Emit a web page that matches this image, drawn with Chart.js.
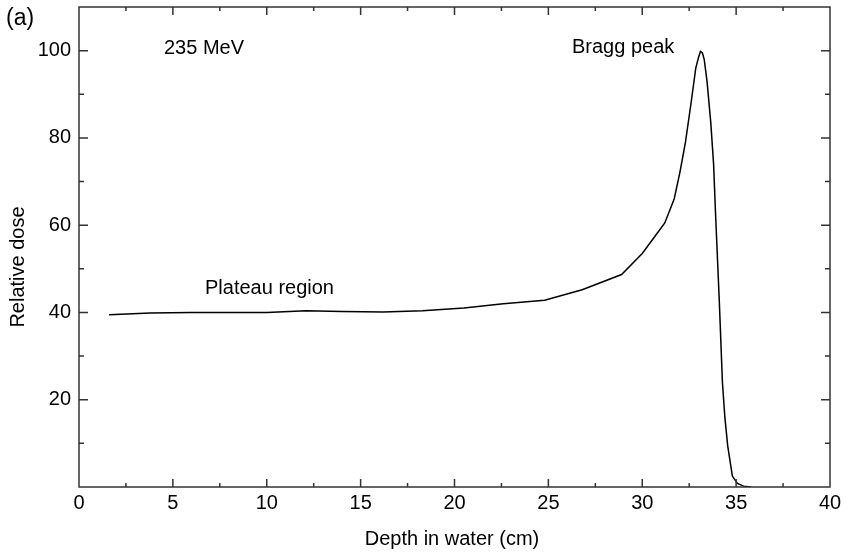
<!DOCTYPE html>
<html>
<head>
<meta charset="utf-8">
<script src="https://cdn.jsdelivr.net/npm/chart.js@4.4.1/dist/chart.umd.min.js"></script>
<style>
body{margin:0;background:#fff;}
#wrap{width:846px;height:554px;position:relative;}
</style>
</head>
<body>
<div id="wrap"><canvas id="bragg"></canvas></div>
<script>
// depth-dose curve, 235 MeV proton beam
var depth = [1.6, 3.8, 6.0, 8.0, 10.0, 12.1, 14.0, 16.2, 18.3, 20.5, 22.6, 24.8, 26.8, 28.9,
    30.0, 30.6, 31.2, 31.7, 32.0, 32.3, 32.6, 32.85, 33.0, 33.1, 33.2, 33.3, 33.45, 33.65,
    33.8, 33.9, 34.1, 34.27, 34.4, 34.55, 34.8, 35.07, 35.4, 35.8]
var dose = [39.5, 39.9, 40.0, 40.0, 40.0, 40.4, 40.2, 40.1, 40.4, 41.0, 42.0, 42.8, 45.2, 48.7,
    53.5, 57.0, 60.5, 66.0, 72.0, 79.0, 88.0, 96.0, 98.5, 99.8, 99.5, 98.0, 93.0, 83.5,
    74.0, 63.0, 43.0, 24.0, 16.0, 9.5, 2.5, 0.8, 0.2, 0.0]

var x_ticks = [0, 5, 10, 15, 20, 25, 30, 35, 40]
var y_ticks = [20, 40, 60, 80, 100]
var x_title = 'Depth in water (cm)'
var y_title = 'Relative dose'
var panel_label = '(a)'
var energy_label = '235 MeV'
var peak_label = 'Bragg peak'
var plateau_label = 'Plateau region'

var font_family = '"Liberation Sans", Arial, sans-serif'
var axis_color = '#333'

var frame_plugin = {
    id: 'frame',
    afterDraw: function(chart){
        let ctx = chart.ctx
        let a = chart.chartArea
        let xs = chart.scales.x
        let ys = chart.scales.y
        ctx.save()
        ctx.strokeStyle = axis_color
        ctx.lineWidth = 1.5
        ctx.strokeRect(a.left, a.top, a.right - a.left, a.bottom - a.top)

        // inward ticks on all four sides
        ctx.beginPath()
        for(let v = 2.5; v < 40; v += 2.5){
            let px = xs.getPixelForValue(v)
            let len = (v % 5 == 0) ? 8 : 4
            ctx.moveTo(px, a.bottom); ctx.lineTo(px, a.bottom - len)
            ctx.moveTo(px, a.top); ctx.lineTo(px, a.top + len)
        }
        for(let v = 10; v < 110; v += 10){
            let py = ys.getPixelForValue(v)
            let len = (v % 20 == 0) ? 9 : 5
            ctx.moveTo(a.left, py); ctx.lineTo(a.left + len, py)
            ctx.moveTo(a.right, py); ctx.lineTo(a.right - len, py)
        }
        ctx.stroke()

        ctx.fillStyle = '#000'
        ctx.textAlign = 'left'
        ctx.textBaseline = 'alphabetic'
        ctx.font = '23px ' + font_family
        ctx.fillText(panel_label, 6, 25)
        ctx.font = '20px ' + font_family
        ctx.fillText(energy_label, 164, 54)
        ctx.fillText(peak_label, 572, 53)
        ctx.fillText(plateau_label, 205, 294)

        ctx.textAlign = 'center'
        ctx.fillText(x_title, 452, 545)

        ctx.translate(24, 267)
        ctx.rotate(-Math.PI / 2)
        ctx.fillText(y_title, 0, 0)
        ctx.restore()
    }
}

var chart = new Chart(document.getElementById('bragg').getContext('2d'), {
    type: 'line',
    data: {
        datasets: [{
            label: 'dose',
            data: depth.map((d, i) => ({x: d, y: dose[i]})),
            borderColor: '#000',
            borderWidth: 1.5,
            pointRadius: 0,
            lineTension: 0,
            fill: false
        }]
    },
    options: {
        responsive: true,
        maintainAspectRatio: false,
        animation: false,
        layout: {padding: {top: 7, right: 16, left: 0, bottom: 0}},
        plugins: {
            legend: {display: false},
            tooltip: {enabled: false}
        },
        scales: {
            x: {
                type: 'linear',
                min: 0,
                max: 40,
                grid: {display: false, drawTicks: false},
                border: {display: false},
                afterBuildTicks: function(scale){ scale.ticks = x_ticks.map(v => ({value: v})) },
                afterFit: function(scale){ scale.height = 67 },
                ticks: {
                    padding: 4,
                    color: '#000',
                    maxRotation: 0,
                    font: {family: font_family, size: 20}
                }
            },
            y: {
                type: 'linear',
                min: 0,
                max: 110,
                grid: {display: false, drawTicks: false},
                border: {display: false},
                afterBuildTicks: function(scale){ scale.ticks = y_ticks.map(v => ({value: v})) },
                afterFit: function(scale){
                    scale.width = 79
                    scale.paddingTop = 0
                    scale.paddingBottom = 0
                },
                ticks: {
                    padding: 8,
                    color: '#000',
                    font: {family: font_family, size: 20}
                }
            }
        }
    },
    plugins: [frame_plugin]
})
</script>
</body>
</html>
